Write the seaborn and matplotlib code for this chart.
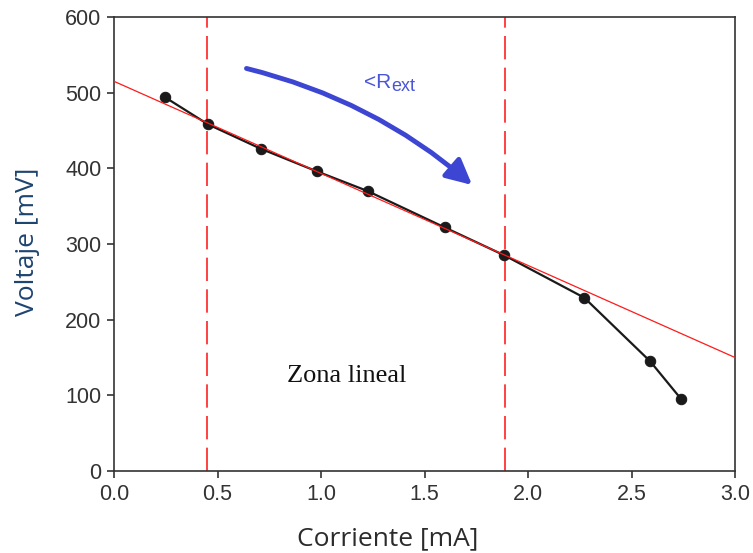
import matplotlib
matplotlib.use("Agg")
import matplotlib.pyplot as plt
import seaborn as sns
import pandas as pd

# Data
current_mA = [0.246, 0.455, 0.708, 0.98, 1.225, 1.597, 1.886, 2.272, 2.59, 2.74]
voltage_mV = [494, 458, 426, 396, 370, 322, 285, 229, 145, 95]
fit_x = [0.0, 3.0]
fit_y = [515, 150]
zone_limits = [0.45, 1.89]
x_ticks = [0.0, 0.5, 1.0, 1.5, 2.0, 2.5, 3.0]
y_ticks = [0, 100, 200, 300, 400, 500, 600]

sns.set_theme(style="ticks")
plt.rcParams['font.family'] = ['Liberation Sans', 'DejaVu Sans']

fig = plt.figure(figsize=(7.53, 5.53), dpi=100)
ax = fig.add_axes([114/753, 1-471/553, (735-114)/753, (471-17)/553])

df = pd.DataFrame({"x": current_mA, "y": voltage_mV})
fit = pd.DataFrame({"x": fit_x, "y": fit_y})

sns.lineplot(data=fit, x="x", y="y", ax=ax, color="#ff1a1a", lw=0.9, zorder=3)
sns.lineplot(data=df, x="x", y="y", ax=ax, color="#1a1a1a", lw=1.6,
             marker="o", markersize=7.5, markeredgecolor="#1a1a1a",
             markerfacecolor="#1a1a1a", zorder=2)

for xv in zone_limits:
    ax.axvline(xv, color="#ff2020", lw=1.2, dashes=(14, 5), zorder=1)

ax.set_xlim(0, 3.0)
ax.set_ylim(0, 600)
ax.set_xticks(x_ticks)
ax.set_xticklabels([f"{v:.1f}" for v in x_ticks])
ax.set_yticks(y_ticks)
ax.set_yticklabels([str(v) for v in y_ticks])

for s in ax.spines.values():
    s.set_visible(True)
    s.set_color("#333333")
    s.set_linewidth(1.2)
ax.tick_params(axis="both", direction="out", length=5, width=1.2,
               color="#333333", labelsize=15.5, labelcolor="#333333", pad=4)

ax.set_xlabel("Corriente [mA]", fontsize=19, color="#2b2b2b",
              family=["Open Sans", "DejaVu Sans"])
ax.set_ylabel("Voltaje [mV]", fontsize=19, color="#1d4470",
              family=["Open Sans", "DejaVu Sans"])
ax.xaxis.set_label_coords((388 - 114) / 621, (471 - 526) / 454)
ax.yaxis.set_label_coords((40 - 114) / 621, (471 - 242) / 454)

ax.annotate("", xy=(1.73, 378), xytext=(0.64, 532),
            arrowprops=dict(arrowstyle="-|>,head_length=0.7,head_width=0.35",
                            color="#3c46d2", lw=3.5, mutation_scale=22,
                            connectionstyle="arc3,rad=-0.12", shrinkA=0, shrinkB=0))
ax.text(1.21, 506, "<R", color="#4a55d8", fontsize=15,
        ha="left", va="baseline")
ax.text(1.338, 502, "ext", color="#4a55d8", fontsize=13,
        ha="left", va="baseline")
ax.text(0.835, 117, "Zona lineal", fontsize=19, color="#111111",
        family=["Liberation Serif", "DejaVu Serif"], ha="left", va="baseline")

fig.savefig("out.png", dpi=100)
